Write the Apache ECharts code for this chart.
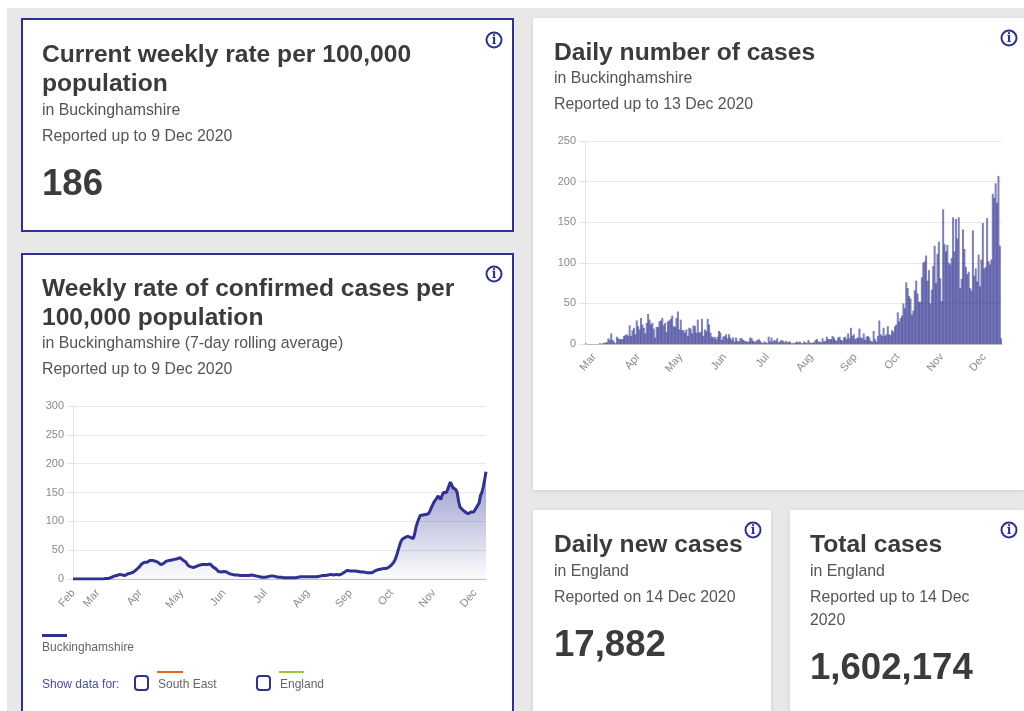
<!DOCTYPE html>
<html><head><meta charset="utf-8">
<style>html,body{margin:0;padding:0;background:#fff;overflow:hidden}#c{width:1024px;height:711px}</style>
<script src="https://cdn.jsdelivr.net/npm/echarts@6/dist/echarts.min.js"></script>
</head><body><div id="c"></div>
<script>
const dailyStart = '2020-02-24';
const dailyCases = [
1,0,0,0,0,0,0,0,0,0,
1,0,1,1,2,2,7,5,13,5,
3,1,9,7,6,6,6,10,11,12,
10,23,10,17,20,12,29,22,18,32,
24,20,13,26,37,30,24,26,19,8,
21,21,28,29,32,23,26,15,28,29,
31,35,22,21,32,40,18,30,17,17,
14,18,10,20,19,13,23,22,14,30,
14,15,31,10,18,16,31,24,14,9,
8,9,6,9,16,14,5,9,10,12,
7,12,8,5,8,3,8,4,3,7,
7,5,4,3,3,3,8,7,4,3,
3,5,6,4,2,1,3,2,1,9,
3,8,3,5,4,7,2,3,5,4,
2,4,2,3,3,1,1,1,2,3,
2,3,1,1,3,2,1,5,2,1,
2,2,5,6,3,3,2,7,3,4,
9,6,6,6,10,8,5,4,8,9,
5,4,8,9,6,13,7,20,10,12,
6,7,8,19,8,7,13,5,9,10,
8,4,3,16,6,3,10,29,12,10,
20,10,12,22,12,11,17,15,22,24,
39,28,32,35,50,44,76,69,59,56,
36,41,66,78,62,52,52,82,100,102,
109,78,91,50,67,96,121,75,111,126,
81,53,166,123,114,122,100,98,106,156,
114,154,130,156,69,80,141,117,95,86,
89,69,66,140,84,93,77,110,71,104,
149,93,95,155,102,98,104,185,180,198,
174,207,121,7];
const weeklyStart = '2020-02-12';
const weeklyRate = [
0,0,0,0,0,0,0,0,0,0,
0,0,0,0,0,0,0,0,0,0,
0,0,0,0,1,1,1,2,3,4,
5,6,6,7,8,8,7,6,6,7,
9,10,10,11,12,14,16,18,20,22,
26,28,29,29,29,30,32,33,32,32,
31,30,29,27,25,26,27,29,31,32,
32,33,33,34,34,34,35,38,37,36,
33,31,30,27,23,21,21,20,20,20,
22,24,24,26,25,26,25,24,25,27,
26,24,21,20,18,15,13,12,12,13,
13,14,12,11,9,9,8,8,7,7,
7,6,6,6,6,6,6,6,6,7,
7,6,6,5,5,4,4,4,3,3,
3,4,4,5,5,5,5,5,4,4,
3,3,3,2,2,2,2,2,2,2,
2,2,2,2,3,3,4,4,4,4,
4,5,4,4,4,4,4,4,4,5,
5,5,6,6,6,7,7,8,8,7,
7,7,8,7,7,8,9,10,12,14,
15,15,14,14,14,15,14,13,13,13,
12,12,12,11,11,11,11,11,11,13,
14,15,16,16,17,18,18,18,18,19,
20,22,24,27,30,35,42,50,58,65,
69,71,72,73,74,73,72,71,70,78,
90,98,104,110,112,111,110,112,109,113,
117,123,128,133,135,140,144,141,138,145,
150,152,150,155,157,168,163,158,155,155,
150,135,125,122,120,118,116,113,113,115,
116,114,116,120,124,128,132,145,150,160,
172,186];
const monthNames = ['Jan','Feb','Mar','Apr','May','Jun','Jul','Aug','Sep','Oct','Nov','Dec'];

function dayLabels(start, n, firstLabelled) {
  const out = [], d = new Date(start + 'T12:00:00Z');
  for (let i = 0; i < n; i++) {
    const isFirst = d.getUTCDate() === 1 || (firstLabelled && i === 0);
    out.push(isFirst ? monthNames[d.getUTCMonth()] : '');
    d.setUTCDate(d.getUTCDate() + 1);
  }
  return out;
}
const dailyLabels = dayLabels(dailyStart, dailyCases.length, false);
const weeklyLabels = dayLabels(weeklyStart, weeklyRate.length, true);

const NAVY = '#2e3192', FONT = '"Liberation Sans", Arial, sans-serif';
const catIdx = dailyLabels.map((_, i) => i), catIdx2 = weeklyLabels.map((_, i) => i);

function txt(x, y, s, size, color, bold) {
  return {type:'text', x, y:y+size*0.055, z:5, silent:true,
    style:{text:s, fill:color, font:(bold?'bold ':'')+size+'px '+FONT, align:'left', verticalAlign:'middle'}};
}
function card(x, y, w, h, bordered) {
  return {type:'rect', z:-5, silent:true, shape:{x:x+(bordered?1:0), y:y+(bordered?1:0), width:w-(bordered?2:0), height:h-(bordered?2:0)},
    style: bordered ? {fill:'#fff', stroke:NAVY, lineWidth:2}
      : {fill:'#fff', shadowBlur:4, shadowColor:'rgba(0,0,0,0.12)', shadowOffsetY:1}};
}
function info(cx, cy) {
  return [
    {type:'circle', z:5, silent:true, shape:{cx, cy, r:7.5}, style:{fill:'#fff', stroke:NAVY, lineWidth:2}},
    {type:'text', x:cx, y:cy+0.5, z:6, silent:true, style:{text:'i', fill:NAVY, font:'bold 12px "DejaVu Serif", serif', align:'center', verticalAlign:'middle'}}
  ];
}
const H='#3b3b3b', S='#555555', L='#666666', P='#4a4d9e';
const HS=24.6, SS=15.85, BS=36.6;
const graphics = [
  {type:'rect', z:-10, silent:true, shape:{x:7, y:8, width:1017, height:703}, style:{fill:'#e8e8e8'}},
  card(21,18,493,214,true), card(21,253,493,470,true),
  card(533,18,491,472,false), card(533,510,238,220,false), card(790,510,234,220,false),

  txt(42,54,'Current weekly rate per 100,000',HS,H,true),
  txt(42,83,'population',HS,H,true),
  txt(42,110,'in Buckinghamshire',SS,S),
  txt(42,136,'Reported up to 9 Dec 2020',SS,S),
  txt(42,183,'186',BS,H,true),

  txt(42,288,'Weekly rate of confirmed cases per',HS,H,true),
  txt(42,317,'100,000 population',HS,H,true),
  txt(42,343,'in Buckinghamshire (7-day rolling average)',SS,S),
  txt(42,369,'Reported up to 9 Dec 2020',SS,S),

  {type:'rect', z:5, silent:true, shape:{x:42,y:634,width:25,height:3}, style:{fill:NAVY}},
  txt(42,647,'Buckinghamshire',12,L),
  txt(42,684,'Show data for:',12,P),
  {type:'rect', z:5, silent:true, shape:{x:135,y:676,width:13,height:14,r:3}, style:{fill:'#fff',stroke:NAVY,lineWidth:2}},
  {type:'rect', z:5, silent:true, shape:{x:157,y:671,width:26,height:2}, style:{fill:'#e8661a'}},
  txt(158,684,'South East',12,L),
  {type:'rect', z:5, silent:true, shape:{x:257,y:676,width:13,height:14,r:3}, style:{fill:'#fff',stroke:NAVY,lineWidth:2}},
  {type:'rect', z:5, silent:true, shape:{x:279,y:671,width:25,height:2}, style:{fill:'#9ac83c'}},
  txt(280,684,'England',12,L),

  txt(554,52,'Daily number of cases',HS,H,true),
  txt(554,78,'in Buckinghamshire',SS,S),
  txt(554,104,'Reported up to 13 Dec 2020',SS,S),

  txt(554,544,'Daily new cases',HS,H,true),
  txt(554,571,'in England',SS,S),
  txt(554,597,'Reported on 14 Dec 2020',SS,S),
  txt(554,644,'17,882',BS,H,true),

  txt(810,544,'Total cases',HS,H,true),
  txt(810,571,'in England',SS,S),
  txt(810,597,'Reported up to 14 Dec',SS,S),
  txt(810,620,'2020',SS,S),
  txt(810,667,'1,602,174',BS,H,true),

  ...info(494,40), ...info(494,274), ...info(1009,38), ...info(753,530), ...info(1009,530)
];

const yAxisBase = (max) => ({
  type:'value', min:0, max, interval:50,
  axisLine:{show:true, lineStyle:{color:'#e4e4e4'}},
  axisTick:{show:true, length:6, lineStyle:{color:'#e4e4e4'}},
  axisLabel:{color:'#8a8a8a', fontSize:11, fontFamily:FONT, margin:9},
  splitLine:{lineStyle:{color:'#e8e8e8'}}
});
const xAxisBase = (labels, cats, gap, gridIndex, margin) => ({
  type:'category', data:cats, boundaryGap:gap, gridIndex,
  axisLine:{show:true, lineStyle:{color:'#bdbdbd'}},
  axisTick:{show:false},
  axisLabel:{color:'#8a8a8a', fontSize:11, fontFamily:FONT, rotate:50, margin, hideOverlap:false,
    interval:(i)=>labels[i]!=='', formatter:(v,i)=>labels[i]},
  splitLine:{show:false}
});

const chart = echarts.init(document.getElementById('c'), null, {renderer:'canvas'});
chart.setOption({
  animation:false,
  backgroundColor:'#fff',
  graphic:{elements:graphics},
  grid:[
    {left:73, right:1024-486, top:406, bottom:711-579},
    {left:585, right:1024-1002, top:141, bottom:711-344}
  ],
  xAxis:[ xAxisBase(weeklyLabels, catIdx2, false, 0, 12), xAxisBase(dailyLabels, catIdx, true, 1, 11) ],
  yAxis:[ {...yAxisBase(300), gridIndex:0}, {...yAxisBase(250), gridIndex:1} ],
  series:[
    {type:'line', name:'Buckinghamshire', xAxisIndex:0, yAxisIndex:0, data:weeklyRate, showSymbol:false, symbol:'none',
     lineStyle:{color:NAVY, width:3}, itemStyle:{color:NAVY},
     areaStyle:{color:new echarts.graphic.LinearGradient(0,0,0,1,[
       {offset:0,color:'rgba(46,49,146,0.7)'},{offset:1,color:'rgba(46,49,146,0.02)'}])}},
    {type:'bar', name:'Daily cases', xAxisIndex:1, yAxisIndex:1, data:dailyCases,
     barWidth:2, itemStyle:{color:'rgba(46,49,146,0.62)'}}
  ]
});
</script></body></html>
